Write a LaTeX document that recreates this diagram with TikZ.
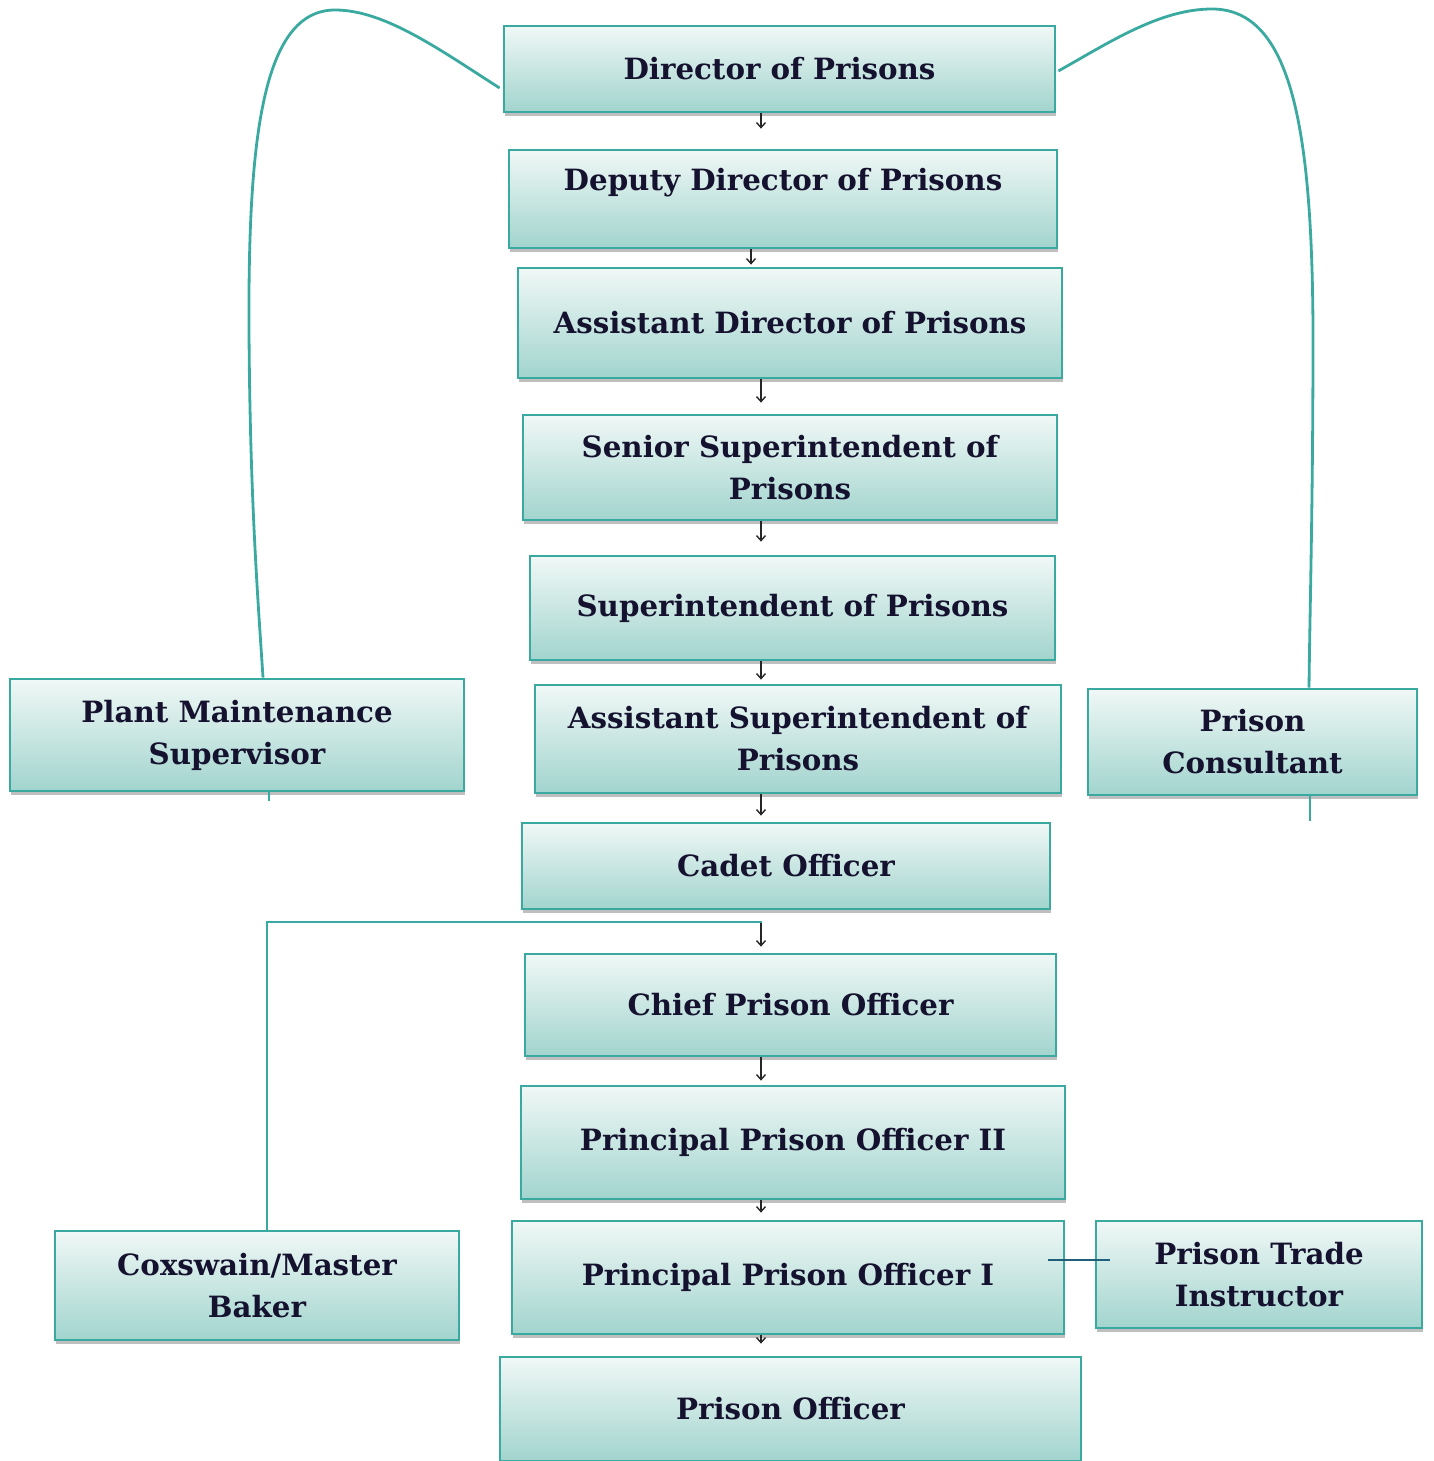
\documentclass[tikz,border=0pt]{standalone}
\usepackage{fontspec}
\setmainfont{DejaVu Serif}
\usetikzlibrary{arrows.meta,shadows,calc}
\definecolor{tealline}{HTML}{3AAAA0}
\definecolor{topc}{HTML}{F0F8F6}
\definecolor{botc}{HTML}{A2D4CE}
\definecolor{txtc}{HTML}{15122F}
\definecolor{navyc}{HTML}{1F5F7A}
\begin{document}
\begin{tikzpicture}[x=1pt,y=-1pt,
  box/.style={draw=tealline, line width=2.8pt, top color=topc, bottom color=botc,
    font=\fontsize{29.3}{42}\selectfont\bfseries, text=txtc, align=center, inner sep=0pt,
    drop shadow={shadow xshift=1pt,shadow yshift=-4pt,opacity=0.25,fill=black}},
  arr/.style={draw=black!85, line width=1.4pt, -{Straight Barb[length=5pt,width=9pt]}},
  tl/.style={draw=tealline, line width=2.8pt},
  navyline/.style={draw=navyc, line width=2.6pt}]
\useasboundingbox (0,0) rectangle (1433,1461);

\node[box, minimum width=551pt, minimum height=86pt] (dir) at (779.5,69) {Director of Prisons};
\node[box, minimum width=548pt, minimum height=98pt] (dep) at (783,199) {Deputy Director of Prisons\\[-16pt]\strut};
\node[box, minimum width=544pt, minimum height=110pt] (ad) at (790,323) {Assistant Director of Prisons};
\node[box, minimum width=534pt, minimum height=105pt] (ss) at (790,467.5) {Senior Superintendent of\\Prisons};
\node[box, minimum width=525pt, minimum height=104pt] (sup) at (792.5,608) {Superintendent of Prisons};
\node[box, minimum width=526pt, minimum height=108pt] (asup) at (798,739) {Assistant Superintendent of\\Prisons};
\node[box, minimum width=528pt, minimum height=86pt] (cadet) at (786,866) {Cadet Officer};
\node[box, minimum width=531pt, minimum height=102pt] (chief) at (790.5,1005) {Chief Prison Officer};
\node[box, minimum width=544pt, minimum height=113pt] (ppo2) at (793,1142.5) {Principal Prison Officer II};
\node[box, minimum width=552pt, minimum height=113pt] (ppo1) at (788,1277.5) {Principal Prison Officer I};
\node[box, minimum width=581pt, minimum height=104pt] (po) at (790.5,1409) {Prison Officer};
\node[box, minimum width=454pt, minimum height=112pt] (plant) at (237,735) {Plant Maintenance\\Supervisor};
\node[box, minimum width=329pt, minimum height=106pt] (cons) at (1252.5,742) {Prison\\Consultant};
\node[box, minimum width=404pt, minimum height=109pt] (cox) at (257,1285.5) {Coxswain/Master\\Baker};
\node[box, minimum width=326pt, minimum height=107pt] (trade) at (1259,1274.5) {Prison Trade\\Instructor};

\coordinate (ax) at (761,0);
\coordinate (ax2) at (751,0);
\coordinate (cj) at (762,922);

\draw[arr, shorten >=20pt] (dir.south -| ax) -- (dep.north -| ax);
\draw[arr, shorten >=2pt] (dep.south -| ax2) -- (ad.north -| ax2);
\draw[arr, shorten >=11pt] (ad.south -| ax) -- (ss.north -| ax);
\draw[arr, shorten >=13pt] (ss.south -| ax) -- (sup.north -| ax);
\draw[arr, shorten >=4pt] (sup.south -| ax) -- (asup.north -| ax);
\draw[arr, shorten >=6pt] (asup.south -| ax) -- (cadet.north -| ax);
\draw[arr, shorten <=12pt, shorten >=6pt] (cadet.south -| ax) -- (chief.north -| ax);
\draw[arr, shorten >=4pt] (chief.south -| ax) -- (ppo2.north -| ax);
\draw[arr, shorten >=7pt] (ppo2.south -| ax) -- (ppo1.north -| ax);
\draw[arr, shorten >=12pt] (ppo1.south -| ax) -- (po.north -| ax);

% left curve to Plant Maintenance Supervisor
\draw[tl] ($(dir.west)+(-3,19)$) .. controls (440,50) and (385,10) .. (335,10)
  .. controls (262,10) and (248,140) .. (249,330)
  .. controls (250,500) and (258,600) .. ($(plant.north)+(26,0)$);
\draw[tl] ($(plant.south)+(32,0)$) -- ++(0,9);

% right curve to Prison Consultant
\draw[tl] ($(dir.east)+(2,2)$) .. controls (1110,42) and (1160,9) .. (1212,9)
  .. controls (1292,9) and (1312,130) .. (1313,330)
  .. controls (1313,500) and (1310,600) .. ($(cons.north)+(56.5,0)$);
\draw[tl] ($(cons.south)+(57.5,0)$) -- ++(0,25);

% Coxswain link
\draw[tl] ($(cox.north)+(10,0)$) |- (cj);

% Trade instructor link
\draw[navyline] ($(ppo1.east)+(-17,-17.5)$) -- ($(trade.west)+(15,-14.5)$);
\end{tikzpicture}
\end{document}
